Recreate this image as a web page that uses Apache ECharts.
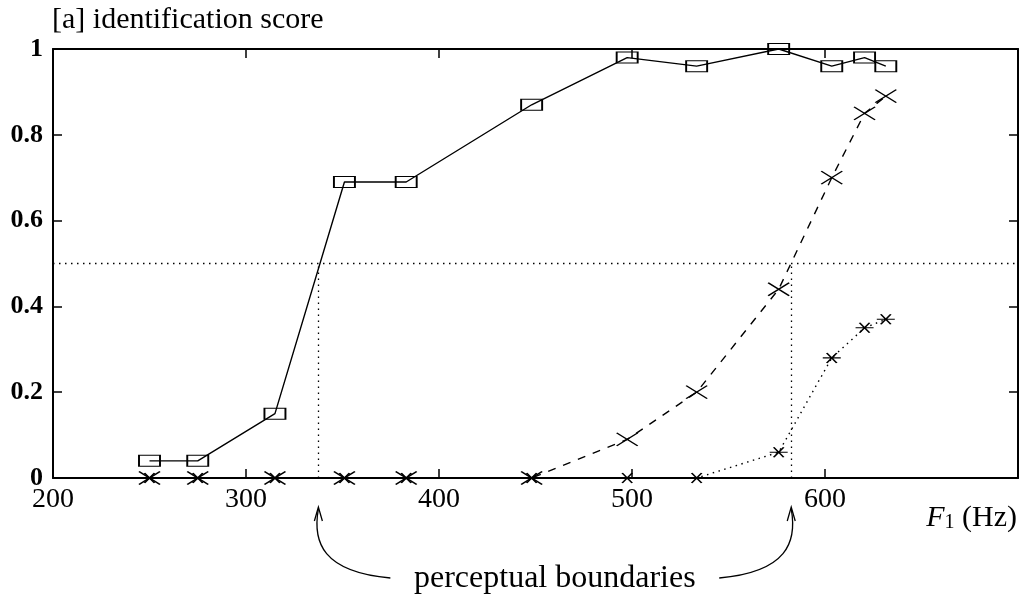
<!DOCTYPE html>
<html><head><meta charset="utf-8">
<script src="https://cdn.jsdelivr.net/npm/echarts@6/dist/echarts.min.js"></script>
<style>html,body{margin:0;padding:0;background:#fff}#c{width:1021px;height:596px}</style>
</head><body><div id="c"></div>
<script>
// ---- data ----
const freqs = [250, 275, 315, 351, 383, 448, 497.5, 533.5, 576, 603.5, 620.5, 631.5];
const squareScores = [0.04, 0.04, 0.15, 0.69, 0.69, 0.87, 0.98, 0.96, 1.0, 0.96, 0.98, 0.96];
const dashedScores = [0, 0, 0, 0, 0, 0, 0.09, 0.20, 0.44, 0.70, 0.85, 0.89];
const dottedScores = [0, 0, 0, 0, 0, 0, 0, 0, 0.06, 0.28, 0.35, 0.37];
const xTickLabels = [200, 300, 400, 500, 600];
const yTickLabels = [0, 0.2, 0.4, 0.6, 0.8, 1];
const boundaries = [337.5, 582.5];
const threshold = 0.5;
const titleText = '[a] identification score';
const annotationText = 'perceptual boundaries';
const xAxisNameParts = ['F', '1', '(Hz)'];

const FONT = 'Liberation Serif';
const pairs = ys => freqs.map((f, i) => [f, ys[i]]);

const chart = echarts.init(document.getElementById('c'), null, {renderer: 'canvas'});

const axisLine = {show: true, onZero: false, lineStyle: {color: '#000', width: 2}};
const axisTick = {show: true, inside: true, length: 9, lineStyle: {color: '#000', width: 1.5}};

const xBase = {type: 'value', min: 200, max: 700, interval: 100, axisLine, axisTick, splitLine: {show: false}};
const yBase = {type: 'value', min: 0, max: 1, interval: 0.2, axisLine, axisTick, splitLine: {show: false}};

const dotted = {color: '#000', width: 1.3, type: [1.5, 4.5]};

chart.setOption({
  animation: false,
  backgroundColor: '#fff',
  grid: {left: 53, right: 3, top: 49, bottom: 118, containLabel: false},
  title: {text: titleText, left: 47, top: 0,
    textStyle: {fontFamily: FONT, fontSize: 30, fontWeight: 'normal', color: '#000'}},
  xAxis: [
    Object.assign({}, xBase, {position: 'bottom',
      axisLabel: {show: true, color: '#000', fontFamily: FONT, fontSize: 28, margin: 8,
        formatter: v => xTickLabels.includes(v) ? String(v) : ''}}),
    Object.assign({}, xBase, {position: 'top', axisLabel: {show: false}})
  ],
  yAxis: [
    Object.assign({}, yBase, {position: 'left',
      axisLabel: {show: true, color: '#000', fontFamily: FONT, fontSize: 26, fontWeight: 'bold', margin: 10,
        formatter: v => yTickLabels.some(t => Math.abs(t - v) < 1e-9) ? String(+v.toFixed(1)) : ''}}),
    Object.assign({}, yBase, {position: 'right', axisLabel: {show: false}})
  ],
  series: [
    {
      type: 'line', name: 'squares', data: pairs(squareScores), z: 5,
      symbol: 'rect', symbolSize: [21, 11],
      itemStyle: {color: 'rgba(0,0,0,0)', borderColor: '#000', borderWidth: 1.4},
      lineStyle: {color: '#000', width: 1.4},
      emphasis: {disabled: true},
      markLine: {
        silent: true, symbol: 'none', label: {show: false}, animation: false,
        lineStyle: dotted,
        data: [
          [{coord: [200, threshold]}, {coord: [700, threshold]}],
          [{coord: [boundaries[0], 0]}, {coord: [boundaries[0], threshold]}],
          [{coord: [boundaries[1], 0]}, {coord: [boundaries[1], threshold]}]
        ]
      }
    },
    {
      type: 'line', name: 'dashed', data: pairs(dashedScores), z: 4,
      symbol: 'path://M0,0L21,13M21,0L0,13', symbolSize: [21, 13],
      itemStyle: {color: 'rgba(0,0,0,0)', borderColor: '#000', borderWidth: 1.4},
      lineStyle: {color: '#000', width: 1.4, type: [8, 8]},
      emphasis: {disabled: true}
    },
    {
      type: 'line', name: 'dotted', data: pairs(dottedScores), z: 3,
      symbol: 'path://M4,1L14,9M14,1L4,9M0,5L18,5', symbolSize: [18, 10],
      itemStyle: {color: 'rgba(0,0,0,0)', borderColor: '#000', borderWidth: 1.4},
      lineStyle: {color: '#000', width: 1.4, type: [1.5, 4.5]},
      emphasis: {disabled: true}
    }
  ]
});

// ---- annotations positioned from the axis scales ----
const tips = boundaries.map(b => chart.convertToPixel({xAxisIndex: 0, yAxisIndex: 0}, [b, 0]));
const base = tips[0][1];
const graphics = [];
tips.forEach((p, i) => {
  const s = i === 0 ? 1 : -1;
  const tx = p[0], ty = base + 29;
  const sx = tx + s * 72, sy = base + 100;
  graphics.push({
    type: 'bezierCurve', silent: true,
    shape: {x1: sx, y1: sy, x2: tx, y2: ty + 2,
      cpx1: tx + s * 4, cpy1: sy - 6, cpx2: tx - s * 6, cpy2: ty + 35},
    style: {stroke: '#000', lineWidth: 1.3, fill: null}
  });
  graphics.push({
    type: 'polyline', silent: true,
    shape: {points: [[tx - 4, ty + 14], [tx, ty], [tx + 4, ty + 14]]},
    style: {stroke: '#000', lineWidth: 1.3, fill: null}
  });
});
graphics.push({
  type: 'text', silent: true,
  x: (tips[0][0] + tips[1][0]) / 2, y: base + 101,
  style: {text: annotationText, font: '32px "' + FONT + '"', fill: '#000', align: 'center', verticalAlign: 'middle'}
});
graphics.push({
  type: 'text', silent: true, x: 1017, y: base + 40,
  style: {
    text: '{i|' + xAxisNameParts[0] + '}{s|' + xAxisNameParts[1] + '}{n| ' + xAxisNameParts[2] + '}',
    align: 'right', verticalAlign: 'middle', fill: '#000',
    rich: {
      i: {fontFamily: FONT, fontSize: 30, fontStyle: 'italic', fill: '#000'},
      s: {fontFamily: FONT, fontSize: 20, fill: '#000', padding: [10, 0, 0, 0]},
      n: {fontFamily: FONT, fontSize: 30, fill: '#000'}
    }
  }
});
chart.setOption({graphic: graphics});
</script>
</body></html>
